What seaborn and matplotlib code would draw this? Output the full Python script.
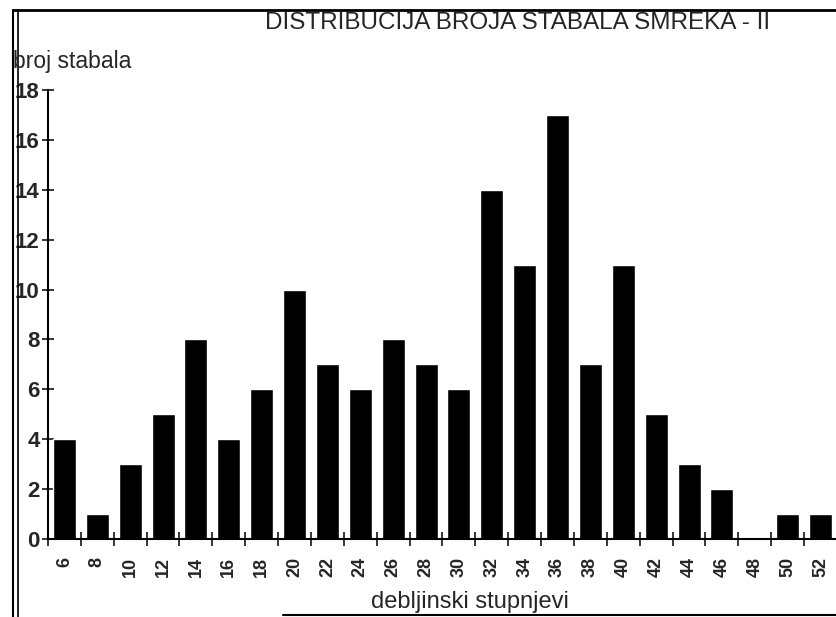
import pandas as pd
import matplotlib.pyplot as plt
import seaborn as sns
from matplotlib.lines import Line2D

# podaci: debljinski stupnjevi i broj stabala
stupnjevi = [6, 8, 10, 12, 14, 16, 18, 20, 22, 24, 26, 28, 30, 32, 34, 36, 38, 40, 42, 44, 46, 48, 50, 52]
broj_stabala = [4, 1, 3, 5, 8, 4, 6, 10, 7, 6, 8, 7, 6, 14, 11, 17, 7, 11, 5, 3, 2, 0, 1, 1]
y_ticks = [0, 2, 4, 6, 8, 10, 12, 14, 16, 18]


def nacrtaj():
    df = pd.DataFrame({'stupanj': [str(s) for s in stupnjevi], 'broj': broj_stabala})

    sns.set_style('white')
    plt.rcParams['font.family'] = ['Liberation Sans', 'DejaVu Sans']

    fig = plt.figure(figsize=(8.37, 6.17), dpi=100)
    ax = fig.add_axes([0.0573, 0.1264, 0.9427, 0.7277])

    sns.barplot(x='stupanj', y='broj', data=df, color='black', width=0.7,
                saturation=1, ax=ax, order=df['stupanj'])

    ax.set_xlim(-0.5, len(stupnjevi) - 0.5)
    ax.set_ylim(0, 18)
    ax.set_yticks(y_ticks)
    ax.set_yticklabels([str(v) for v in y_ticks], fontsize=16, fontweight='bold')
    ax.tick_params(axis='y', direction='inout', length=8, width=1.3, pad=2, left=True)

    # oznake kategorija u sredini, crtice na granicama
    ax.set_xticks(range(len(stupnjevi)))
    ax.set_xticklabels([str(s) for s in stupnjevi], rotation=90, fontsize=13, fontweight='bold')
    ax.tick_params(axis='x', which='major', length=0, pad=13)
    ax.set_xticks([i + 0.5 for i in range(-1, len(stupnjevi))], minor=True)
    ax.tick_params(axis='x', which='minor', direction='inout', length=10, width=1.3, bottom=True)

    for s in ['top', 'right']:
        ax.spines[s].set_visible(False)
    for s in ['left', 'bottom']:
        ax.spines[s].set_color('black')
        ax.spines[s].set_linewidth(1.5)

    ax.set_xlabel('')
    ax.set_ylabel('')
    fig.text(0.0155, 0.900, 'broj stabala', fontsize=16.5, va='center', ha='left')
    fig.text(0.618, 0.963, 'DISTRIBUCIJA BROJA STABALA SMREKA - II', fontsize=17.5,
             va='center', ha='center')
    fig.text(0.5615, 0.024, 'debljinski stupnjevi', fontsize=17, va='center', ha='center')

    # okvir kao na skeniranom listu
    fig.add_artist(Line2D([0.015, 1.0], [0.984, 0.984], color='black', lw=2))
    fig.add_artist(Line2D([0.016, 0.016], [0.0, 0.984], color='black', lw=1.5))
    fig.add_artist(Line2D([0.022, 0.022], [0.0, 0.984], color='black', lw=1.2))
    fig.add_artist(Line2D([0.338, 1.0], [0.003, 0.003], color='black', lw=1.5))

    plt.savefig('out.png', dpi=100)


if __name__ == "__main__":
    nacrtaj()
